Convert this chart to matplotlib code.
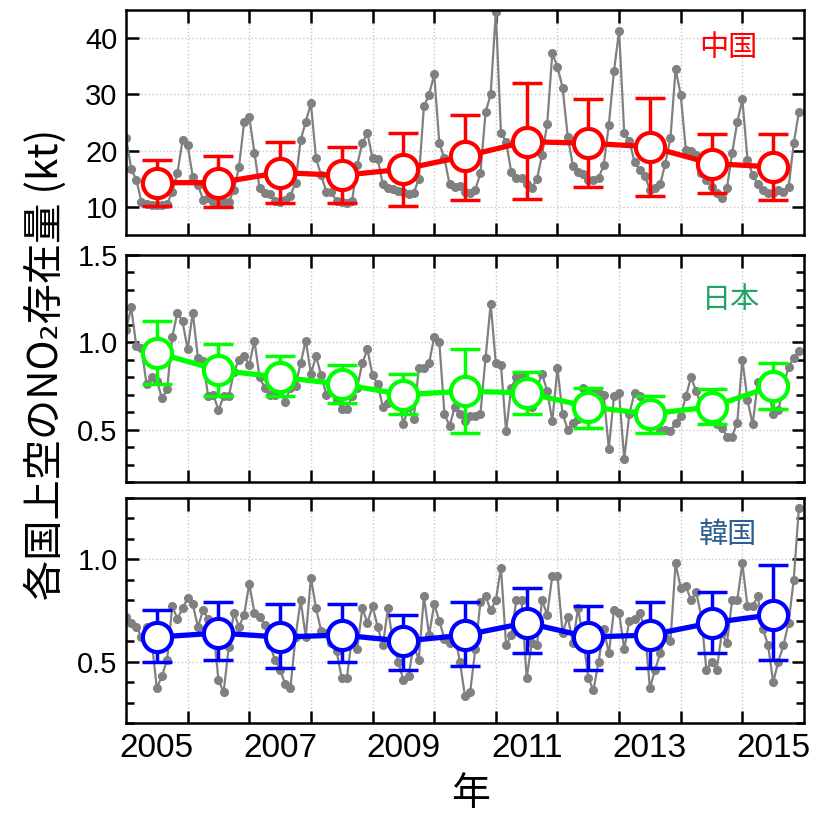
import numpy as np
import matplotlib
matplotlib.use('Agg')
import matplotlib.pyplot as plt
from matplotlib.ticker import MultipleLocator

years = np.arange(2005, 2016)

# monthly values, Jan..Dec for each year 2005-2015
china_monthly = [
    22.3, 16.8, 14.8, 10.9, 10.5, 10.3, 10.4, 10.3, 10.5, 12.7, 16.0, 21.8,
    21.0, 15.3, 13.9, 11.3, 11.6, 10.8, 10.5, 10.9, 10.9, 13.0, 17.1, 25.1,
    26.0, 19.6, 13.3, 12.5, 12.3, 11.0, 10.8, 11.2, 12.0, 14.3, 21.9, 25.1,
    28.4, 18.6, 15.6, 12.7, 12.6, 11.0, 10.8, 10.6, 11.0, 17.4, 21.3, 23.1,
    18.6, 18.5, 14.0, 13.3, 13.1, 12.9, 12.7, 12.2, 12.4, 15.0, 27.9, 29.9,
    33.6, 21.3, 18.6, 14.0, 13.5, 13.7, 12.7, 12.5, 13.0, 16.0, 26.8, 30.0,
    44.7, 23.1, 21.6, 16.2, 15.1, 15.1, 14.0, 13.4, 14.9, 19.2, 24.7, 37.3,
    34.9, 31.2, 22.5, 17.3, 16.2, 15.9, 14.8, 14.8, 15.1, 17.4, 24.6, 34.1,
    41.3, 23.1, 21.7, 18.0, 16.6, 15.5, 13.0, 13.3, 14.0, 17.7, 22.2, 34.5,
    29.9, 20.1, 20.0, 19.3, 16.0, 14.8, 13.5, 12.5, 11.5, 13.4, 19.5, 25.0,
    29.1, 18.4, 15.7, 14.0, 13.0, 12.5, 12.5, 13.0, 12.7, 13.5, 21.3, 26.8,
]
japan_monthly = [
    1.07, 1.20, 0.98, 0.97, 0.76, 0.80, 0.78, 0.68, 0.73, 1.03, 1.17, 1.12,
    0.96, 1.17, 0.91, 0.89, 0.69, 0.70, 0.61, 0.69, 0.69, 0.83, 0.90, 0.92,
    0.87, 1.01, 0.80, 0.74, 0.70, 0.70, 0.72, 0.66, 0.74, 0.75, 0.88, 1.01,
    0.82, 0.92, 0.81, 0.70, 0.74, 0.67, 0.62, 0.62, 0.69, 0.74, 0.88, 0.96,
    0.81, 0.76, 0.63, 0.65, 0.69, 0.70, 0.53, 0.63, 0.56, 0.85, 0.85, 0.88,
    1.03, 1.00, 0.59, 0.52, 0.63, 0.59, 0.55, 0.58, 0.58, 0.59, 0.91, 1.22,
    0.88, 0.87, 0.49, 0.74, 0.80, 0.80, 0.70, 0.63, 0.74, 0.82, 0.72, 0.55,
    0.85, 0.59, 0.50, 0.54, 0.56, 0.74, 0.62, 0.71, 0.71, 0.70, 0.39, 0.69,
    0.71, 0.33, 0.59, 0.71, 0.69, 0.58, 0.60, 0.56, 0.50, 0.50, 0.49, 0.54,
    0.58, 0.69, 0.80, 0.72, 0.64, 0.58, 0.56, 0.53, 0.51, 0.46, 0.46, 0.54,
    0.90, 0.67, 0.53, 0.77, 0.78, 0.74, 0.59, 0.61, 0.75, 0.86, 0.91, 0.95,
]
korea_monthly = [
    0.72, 0.69, 0.67, 0.62, 0.67, 0.60, 0.37, 0.43, 0.51, 0.77, 0.71, 0.76,
    0.81, 0.78, 0.67, 0.75, 0.71, 0.66, 0.41, 0.35, 0.57, 0.74, 0.67, 0.73,
    0.88, 0.74, 0.72, 0.68, 0.58, 0.51, 0.46, 0.39, 0.37, 0.62, 0.80, 0.62,
    0.91, 0.76, 0.65, 0.64, 0.59, 0.55, 0.42, 0.42, 0.62, 0.56, 0.76, 0.69,
    0.77, 0.67, 0.58, 0.76, 0.59, 0.50, 0.41, 0.43, 0.58, 0.51, 0.82, 0.63,
    0.78, 0.70, 0.61, 0.59, 0.63, 0.50, 0.33, 0.35, 0.56, 0.79, 0.82, 0.75,
    0.80, 0.96, 0.58, 0.63, 0.80, 0.80, 0.42, 0.59, 0.58, 0.80, 0.73, 0.92,
    0.92, 0.64, 0.72, 0.59, 0.76, 0.62, 0.42, 0.36, 0.50, 0.66, 0.54, 0.75,
    0.74, 0.56, 0.70, 0.71, 0.74, 0.66, 0.37, 0.46, 0.54, 0.62, 0.60, 0.98,
    0.86, 0.87, 0.80, 0.84, 0.72, 0.46, 0.50, 0.46, 0.64, 0.59, 0.80, 0.80,
    0.98, 0.77, 0.77, 0.82, 0.66, 0.58, 0.40, 0.50, 0.58, 0.69, 0.90, 1.25,
]

# annual means and error bar ends
china_mean = [14.3, 14.3, 16.1, 15.6, 16.7, 19.0, 21.6, 21.3, 20.7, 17.7, 17.1]
china_hi = [18.4, 19.0, 21.6, 20.7, 23.2, 26.3, 32.0, 29.2, 29.4, 23.0, 23.0]
china_lo = [10.2, 10.0, 10.6, 10.7, 10.2, 11.3, 11.4, 13.5, 12.0, 12.5, 11.3]

japan_mean = [0.94, 0.84, 0.80, 0.76, 0.70, 0.72, 0.71, 0.63, 0.59, 0.63, 0.75]
japan_hi = [1.12, 0.99, 0.92, 0.87, 0.82, 0.96, 0.83, 0.74, 0.69, 0.73, 0.88]
japan_lo = [0.76, 0.69, 0.69, 0.65, 0.59, 0.48, 0.59, 0.51, 0.48, 0.53, 0.62]

korea_mean = [0.62, 0.64, 0.62, 0.63, 0.60, 0.63, 0.69, 0.62, 0.63, 0.69, 0.73]
korea_hi = [0.75, 0.79, 0.78, 0.78, 0.73, 0.79, 0.86, 0.77, 0.79, 0.84, 0.97]
korea_lo = [0.50, 0.51, 0.47, 0.50, 0.46, 0.48, 0.54, 0.46, 0.47, 0.54, 0.51]

names = ['中国', '日本', '韓国']
line_colors = ['#ff0000', '#00ff00', '#0000ff']
name_colors = ['#ff0000', '#1fa463', '#2f5f8f']
name_pos = [(0.888, 0.831), (0.892, 0.80), (0.888, 0.837)]

cjk = ['Noto Sans CJK JP', 'DejaVu Sans']
plt.rcParams['font.family'] = ['Liberation Sans', 'DejaVu Sans']

month_x = np.array([y + m / 12 for y in years for m in range(12)])
mid_x = years + 0.5

fig = plt.figure(figsize=(8.22, 8.19), dpi=100)
# [left, bottom, width, height]
rects = [[0.1533, 0.7131, 0.8248, 0.2747],
         [0.1533, 0.4115, 0.8248, 0.2772],
         [0.1533, 0.1172, 0.8248, 0.2748]]

panels = [
    (china_monthly, china_mean, china_hi, china_lo, (5, 45), [10, 20, 30, 40], None),
    (japan_monthly, japan_mean, japan_hi, japan_lo, (0.2, 1.5), [0.5, 1.0, 1.5], 0.1),
    (korea_monthly, korea_mean, korea_hi, korea_lo, (0.2, 1.3), [0.5, 1.0], 0.1),
]

for i, (monthly, mean, hi, lo, ylim, yt, minor) in enumerate(panels):
    ax = fig.add_axes(rects[i])
    mean = np.array(mean)
    yerr = [mean - np.array(lo), np.array(hi) - mean]

    ax.plot(month_x, monthly, '-o', color='#808080', lw=1.6, ms=5.5, zorder=2)
    ax.errorbar(mid_x, mean, yerr=yerr, fmt='none', ecolor=line_colors[i],
                elinewidth=2.5, capsize=11, capthick=2.5, zorder=3)
    ax.plot(mid_x, mean, '-o', color=line_colors[i], lw=3.8, ms=21,
            mfc='white', mec=line_colors[i], mew=3, zorder=4)

    ax.set_xlim(2005, 2016)
    ax.set_ylim(*ylim)
    ax.set_yticks(yt)
    ax.set_yticklabels([f'{v:g}' if v >= 10 else f'{v:.1f}' for v in yt])
    if minor:
        ax.yaxis.set_minor_locator(MultipleLocator(minor))
    ax.set_xticks(np.arange(2006, 2016))
    ax.set_xticklabels([])
    ax.set_xticks(np.arange(2005.5, 2016, 2), minor=True)
    if i == 2:
        ax.set_xticklabels([str(y) for y in range(2005, 2016, 2)], minor=True)
    else:
        ax.set_xticklabels([], minor=True)

    ax.grid(True, which='major', linestyle=':', color='#c8c8c8', lw=1)
    ax.tick_params(which='both', direction='in', top=True, right=True, width=1.8)
    ax.tick_params(which='major', length=9)
    ax.tick_params(axis='y', which='minor', length=6)
    ax.tick_params(axis='x', which='minor', length=0, pad=7, labelsize=24)
    ax.tick_params(axis='y', labelsize=21, pad=6)
    for s in ax.spines.values():
        s.set_linewidth(1.8)

    ax.text(name_pos[i][0], name_pos[i][1], names[i], transform=ax.transAxes,
            ha='center', va='center', fontsize=21, color=name_colors[i], family=cjk)

fig.text(0.055, 0.555, '各国上空のNO₂存在量 (kt)', rotation=90, ha='center',
         va='center', fontsize=29, family=cjk)
fig.text(0.572, 0.03, '年', ha='center', va='center', fontsize=28, family=cjk)

fig.savefig('out.png', dpi=100)
